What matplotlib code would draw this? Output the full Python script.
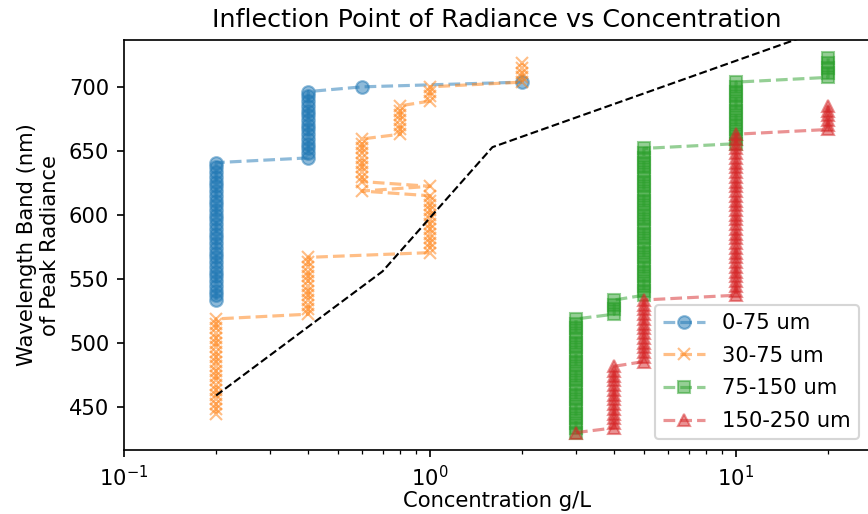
import matplotlib
matplotlib.use("Agg")
import matplotlib.pyplot as plt

# wavelength bands (nm) at which the inflection point was located
bands = [
    430.0, 433.7, 437.4, 441.1, 444.8, 448.5, 452.2, 455.9, 459.6, 463.3,
    467.0, 470.7, 474.4, 478.1, 481.8, 485.5, 489.2, 492.9, 496.6, 500.3,
    504.0, 507.7, 511.4, 515.1, 518.8, 522.5, 526.2, 529.9, 533.6, 537.3,
    541.0, 544.7, 548.4, 552.1, 555.8, 559.5, 563.2, 566.9, 570.6, 574.3,
    578.0, 581.7, 585.4, 589.1, 592.8, 596.5, 600.2, 603.9, 607.6, 611.3,
    615.0, 618.7, 622.4, 626.1, 629.8, 633.5, 637.2, 640.9, 644.6, 648.3,
    652.0, 655.7, 659.4, 663.1, 666.8, 670.5, 674.2, 677.9, 681.6, 685.3,
    689.0, 692.7, 696.4, 700.1, 703.8, 707.5, 711.2, 714.9, 718.6, 722.3,
]

# concentration (g/L) of the inflection point for each band, per size class
conc_0_75 = [0.2] * 30 + [0.4] * 15 + [0.6] + [2.0]
conc_30_75 = ([0.2] * 21 + [0.4] * 13 + [1.0] * 13 + [0.6] + [1.0]
              + [0.6] * 10 + [0.8] * 7 + [1.0] * 4 + [2.0] * 5)
conc_75_150 = [3.0] * 25 + [4.0] * 4 + [5.0] * 32 + [10.0] * 14 + [20.0] * 5
conc_150_250 = [3.0] + [4.0] * 14 + [5.0] * 14 + [10.0] * 35 + [20.0] * 6

bands_0_75 = bands[28:75]
bands_30_75 = bands[4:79]
bands_75_150 = bands[0:80]
bands_150_250 = bands[0:70]

labels = ["0-75 um", "30-75 um", "75-150 um", "150-250 um"]
markers = ["o", "x", "s", "^"]

# reference curve
ref_conc = [0.2, 0.7, 1.6, 20.0]
ref_band = [459.0, 556.0, 653.0, 746.0]

dpi = 152
fig = plt.figure(figsize=(868 / dpi, 514 / dpi), dpi=dpi)
ax = fig.add_axes([124 / 868, 64 / 514, 746 / 868, 410 / 514])

series = [
    (conc_0_75, bands_0_75),
    (conc_30_75, bands_30_75),
    (conc_75_150, bands_75_150),
    (conc_150_250, bands_150_250),
]
for (conc, band), label, marker in zip(series, labels, markers):
    ax.plot(conc, band, linestyle="--", marker=marker, alpha=0.5, label=label)

ax.plot(ref_conc, ref_band, "k--", linewidth=1)

ax.set_xscale("log")
ax.set_xlim(0.1, 10 ** (-1 + 746 / 306))
ax.set_ylim(416.4, 736.7)
ax.set_title("Inflection Point of Radiance vs Concentration")
ax.set_xlabel("Concentration g/L", labelpad=0.5)
ax.set_ylabel("Wavelength Band (nm)\nof Peak Radiance")
ax.legend(loc="lower right", labelspacing=0.6)

fig.savefig("out.png", dpi=dpi)
